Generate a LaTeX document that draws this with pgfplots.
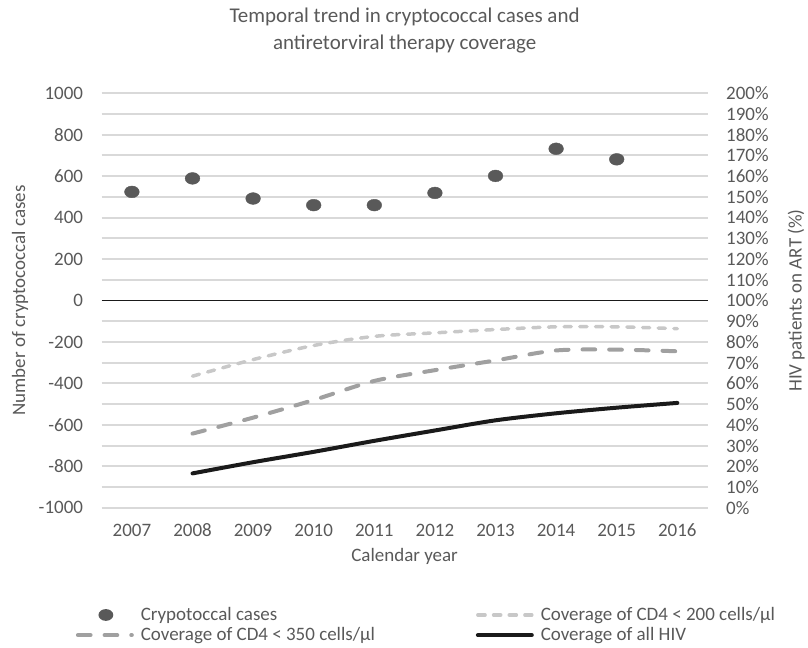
\documentclass[border=0pt]{standalone}
\usepackage{fontspec}
\setmainfont{Carlito}
\usepackage{pgfplots}
\pgfplotsset{compat=1.18}
\definecolor{txt}{HTML}{595959}
\definecolor{grd}{HTML}{D9D9D9}
\definecolor{lite}{HTML}{C8C8C8}
\definecolor{mid}{HTML}{A0A0A0}
\definecolor{blk}{HTML}{1A1A1A}
\definecolor{dotc}{HTML}{595959}
\pgfplotsset{
  base/.style={scale only axis, width=606.6bp, height=415bp, xmin=-0.5, xmax=9.5,
    axis line style={draw=none}, major tick length=0pt, tick style={draw=none},
    xtick={0,...,9}},
  linelegend/.style={legend image code/.code={\draw[##1] (2bp,0bp) -- (56bp,0bp);}},
  dotlegend/.style={legend image code/.code={\fill[dotc, draw=none] (30bp,0bp) ellipse [x radius=7.4bp, y radius=5.9bp]; \path[draw=none, fill=none] (0bp,0bp) -- (56bp,0bp);}},
}
\begin{document}
\begin{tikzpicture}[font=\fontsize{19bp}{22bp}\selectfont, text=txt]
\begin{axis}[base, ymin=0, ymax=200,
  ytick={0,10,...,90,110,120,...,200},
  yticklabels={0\%,10\%,20\%,30\%,40\%,50\%,60\%,70\%,80\%,90\%,110\%,120\%,130\%,140\%,150\%,160\%,170\%,180\%,190\%,200\%},
  yticklabel pos=right,
  yticklabel style={anchor=west, inner sep=0pt, xshift=18.4bp, text=txt},
  extra y ticks={100}, extra y tick labels={100\%},
  extra y tick style={grid style={blk, line width=1.8bp}},
  ymajorgrids, grid style={grd, line width=2bp},
  xticklabels={},
  every axis y label/.style={at={(axis description cs:1.1462,0.5)}, rotate=90, anchor=center},
  ylabel={HIV patients on ART (\%)},
  legend columns=2,
  legend cell align=left,
  legend style={at={(axis description cs:-0.0424,-0.236)}, anchor=north west, draw=none, fill=none,
    inner sep=0pt, outer sep=0pt, row sep=1.5bp, font=\fontsize{19bp}{22bp}\selectfont,
    /tikz/every odd column/.append style={column sep=5bp},
    /tikz/every even column/.append style={column sep=99bp}},
]
\addlegendimage{draw=none, no markers, dotlegend}
\addlegendentry{Crypotoccal cases}
\addplot[lite, line width=3.5bp, line cap=round, dash pattern=on 7.2bp off 8.5bp, smooth, no markers, linelegend]
  coordinates {(1,63.5) (2,71.5) (3,78.3) (4,82.7) (5,84.4) (6,86.0) (7,87.3) (8,87.3) (9,86.4)};
\addlegendentry{Coverage of CD4 < 200 cells/µl}
\addplot[mid, line width=4bp, line cap=round, dash pattern=on 12.7bp off 14bp, smooth, no markers, linelegend]
  coordinates {(1,35.8) (2,43.5) (3,52.0) (4,61.2) (5,66.4) (6,71.1) (7,75.9) (8,76.3) (9,75.5)};
\addlegendentry{Coverage of CD4 < 350 cells/µl}
\addplot[blk, line width=4bp, line cap=round, smooth, no markers, linelegend]
  coordinates {(1,16.6) (2,22.0) (3,27.0) (4,32.3) (5,37.3) (6,42.2) (7,45.6) (8,48.3) (9,50.6)};
\addlegendentry{Coverage of all HIV}
\end{axis}
\begin{axis}[base, name=ax, ymin=-1000, ymax=1000,
  ytick={-1000,-800,...,1000},
  yticklabels={-1000,-800,-600,-400,-200,0,200,400,600,800,1000},
  yticklabel style={anchor=east, inner sep=0pt, xshift=-18.4bp, text=txt},
  xticklabels={2007,2008,2009,2010,2011,2012,2013,2014,2015,2016},
  xticklabel style={anchor=center, inner sep=0pt, yshift=-22.7bp, text=txt},
  every axis y label/.style={at={(axis description cs:-0.1347,0.5)}, rotate=90, anchor=center},
  ylabel={Number of cryptococcal cases},
  every axis x label/.style={at={(axis description cs:0.5,-0.1166)}, anchor=center},
  xlabel={Calendar year},
]
\addplot[only marks, mark=*, dotc, mark size=5.9bp, mark options={xscale=1.25}]
  coordinates {(0,524) (1,589) (2,492) (3,460) (4,460) (5,519) (6,601) (7,732) (8,681)};
\end{axis}
\node[align=center, font=\fontsize{21bp}{27bp}\selectfont, text=txt] at ([yshift=62.8bp]ax.north)
  {Temporal trend in cryptococcal cases and\\antiretorviral therapy coverage};
\path[use as bounding box] ([shift={(-101.7bp,-139.7bp)}]ax.south west) rectangle +(808bp,648bp);
\end{tikzpicture}
\end{document}
